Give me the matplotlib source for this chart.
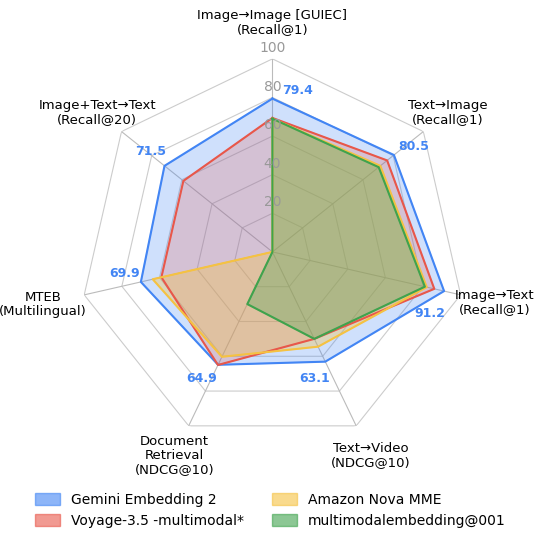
import numpy as np
import matplotlib.pyplot as plt
from matplotlib.patches import Patch

categories = ["Image→Image [GUIEC]\n(Recall@1)", "Text→Image\n(Recall@1)", "Image→Text\n(Recall@1)",
              "Text→Video\n(NDCG@10)", "Document\nRetrieval\n(NDCG@10)", "MTEB\n(Multilingual)",
              "Image+Text→Text\n(Recall@20)"]
gemini = [79.4, 80.5, 91.2, 63.1, 64.9, 69.9, 71.5]
voyage = [69.4, 76.0, 86.0, 50.0, 65.0, 59.0, 59.0]
amazon = [69.0, 71.5, 82.0, 54.5, 60.3, 63.6, 0.0]
google_mm = [69.0, 70.4, 81.0, 50.0, 30.0, 0.0, 0.0]
series = [("Gemini Embedding 2", gemini, "#4285F4", 0.25),
          ("Voyage-3.5 -multimodal*", voyage, "#E8574A", 0.22),
          ("Amazon Nova MME", amazon, "#F5C242", 0.35),
          ("multimodalembedding@001", google_mm, "#3FA34D", 0.30)]
rings = [20, 40, 60, 80, 100]

n = len(categories)
angles = np.linspace(0, 2 * np.pi, n, endpoint=False)
closed = np.append(angles, angles[0])

fig = plt.figure(figsize=(5.4, 5.4), dpi=100)
ax = fig.add_axes([0.147, 0.176, 0.715, 0.715], projection="polar")
ax.set_theta_offset(np.pi / 2)
ax.set_theta_direction(-1)
ax.set_ylim(0, 100)
ax.grid(False)
ax.spines["polar"].set_visible(False)
ax.set_xticks([])
ax.set_yticks([])

# heptagon grid
for r in rings:
    ax.plot(closed, [r] * (n + 1), color="#cccccc", lw=0.8, zorder=1)
for a in angles:
    ax.plot([a, a], [0, 100], color="#bbbbbb", lw=0.8, zorder=1)

for name, vals, col, alpha in series:
    v = np.append(vals, vals[0])
    ax.fill(closed, v, color=col, alpha=alpha, zorder=2)
    ax.plot(closed, v, color=col, lw=1.5, zorder=3)

for r in rings:
    ax.text(0, r + 2, str(r), ha="center", va="bottom", color="#999999", fontsize=10, zorder=4)

# Gemini value labels
offsets = [(18, 6), (14, 6), (-10, -16), (-8, -12), (-12, -10), (-12, 6), (-10, 10)]
for a, v, off in zip(angles, gemini, offsets):
    ax.annotate(f"{v}", (a, v), xytext=off, textcoords="offset points", ha="center", va="center",
                color="#4285F4", fontsize=9, fontweight="bold", zorder=5)

# category labels
label_pos = [112, 116, 118, 117, 117, 122, 116]
for a, lab, r in zip(angles, categories, label_pos):
    ax.text(a, r, lab, ha="center", va="bottom" if a == 0 else "center", fontsize=9.5, linespacing=1.1)

handles = [Patch(facecolor=col, edgecolor=col, alpha=0.6) for _, _, col, _ in series]
fig.legend(handles, [s[0] for s in series],
           loc="lower center", ncol=2, frameon=False, fontsize=10, bbox_to_anchor=(0.5, 0.0),
           columnspacing=2.0, handlelength=1.8, handleheight=1.0)

fig.savefig("out.png", dpi=100)
